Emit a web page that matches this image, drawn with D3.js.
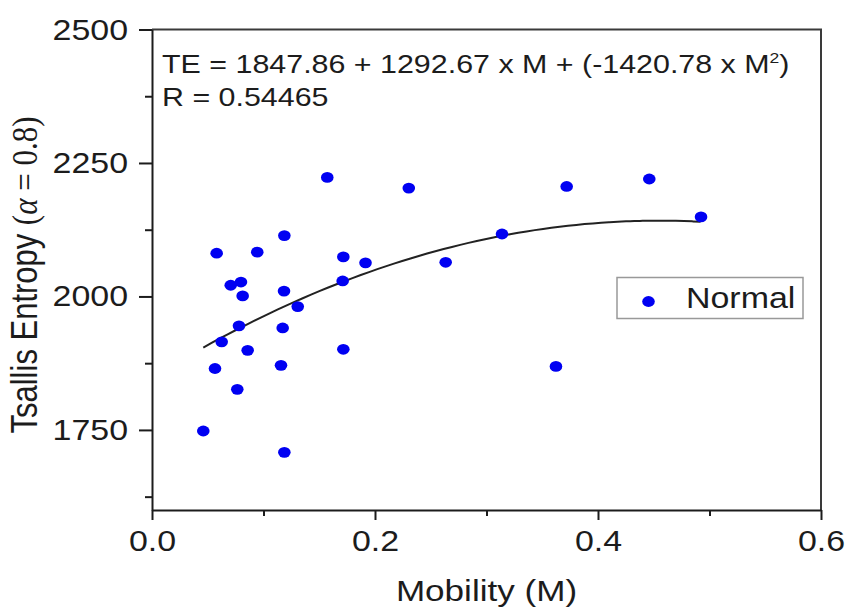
<!DOCTYPE html>
<html>
<head>
<meta charset="utf-8">
<script src="https://cdn.jsdelivr.net/npm/d3@7"></script>
<style>
  body { margin: 0; background: #fff; }
  text { font-family: "Liberation Sans", Arial, sans-serif; fill: #1c1c1c; }
</style>
</head>
<body>
<div id="chart"></div>
<script>
// ------ DATA ------
const mobility = [0.046, 0.0565, 0.058, 0.0625, 0.0706, 0.0765, 0.078, 0.0798, 0.0813, 0.0858,
                  0.0944, 0.1157, 0.1172, 0.1184, 0.1187, 0.1187, 0.1307, 0.1572, 0.171, 0.1716,
                  0.1716, 0.1915, 0.2303, 0.2634, 0.3139, 0.3623, 0.3719, 0.446, 0.4924]
const entropy  = [1748, 1865, 2081, 1915, 2021, 1826, 1945, 2027, 2001, 1899,
                  2083, 1871, 1941, 2010, 2114, 1708, 1981, 2223, 2029, 2074,
                  1901, 2063, 2203, 2064, 2117, 1869, 2206, 2220, 2149]

const xTicks = [0.0, 0.2, 0.4, 0.6]
const xMinor = [0.1, 0.3, 0.5]
const yTicks = [1750, 2000, 2250, 2500]
const yMinor = [1625, 1875, 2125, 2375]

// quadratic fit shown on the chart: TE = a + b*M + c*M^2
const fitCoef  = [1847.86, 1292.67, -1420.78]
const fitRange = [0.046, 0.492]
const fitR = "0.54465"
const seriesName = "Normal"

// ------ LAYOUT ------
const W = 849, H = 608
const SX = 1.17   // the picture is stretched sideways, so text is too
const blue = "#0000f2"
const serif = "'Liberation Serif', 'DejaVu Serif', serif"

const x = d3.scaleLinear().domain([0, 0.6]).range([152, 821])
const y = d3.scaleLinear().domain([1600, 2500]).range([510, 29.5])

const svg = d3.select("#chart").append("svg")
  .attr("width", W).attr("height", H)

svg.append("rect").attr("width", W).attr("height", H).attr("fill", "#fff")

// frame top + right
svg.append("path")
  .attr("d", `M${x(0)},${y(2500)}H${x(0.6)}V${y(1600)}`)
  .attr("fill", "none").attr("stroke", "#3a3a3a").attr("stroke-width", 2)

// ------ X AXIS ------
const gx = svg.append("g").attr("transform", `translate(0,${y(1600)})`)
  .call(d3.axisBottom(x).tickValues(xTicks).tickSize(10).tickSizeOuter(0)
    .tickFormat(d3.format(".1f")))
gx.append("g")
  .call(d3.axisBottom(x).tickValues(xMinor).tickSize(6).tickFormat(""))
  .select(".domain").remove()

gx.selectAll("text")
  .attr("y", 0).attr("dy", 0)
  .attr("transform", `translate(0,40.5) scale(${SX},1)`)
  .style("font-size", "29px")

// ------ Y AXIS ------
const gy = svg.append("g").attr("transform", `translate(${x(0)},0)`)
  .call(d3.axisLeft(y).tickValues(yTicks).tickSize(13).tickSizeOuter(0)
    .tickFormat(d3.format("d")))
gy.append("g")
  .call(d3.axisLeft(y).tickValues(yMinor).tickSize(7).tickFormat(""))
  .select(".domain").remove()

gy.selectAll("text")
  .attr("x", 0).attr("dy", 0)
  .attr("transform", `translate(-24,9.5) scale(${SX},1)`)
  .style("font-size", "29px")

svg.selectAll(".domain").attr("stroke", "#1c1c1c").attr("stroke-width", 2)
svg.selectAll(".tick line").attr("stroke", "#1c1c1c").attr("stroke-width", 2)

// axis titles
svg.append("text")
  .attr("text-anchor", "middle")
  .attr("transform", `translate(${x(0.3)},601) scale(${SX},1)`)
  .style("font-size", "30px")
  .text("Mobility (M)")

const ytitle = svg.append("text")
  .attr("text-anchor", "middle")
  .attr("transform", `translate(36.5,275) scale(${SX},1) rotate(-90)`)
  .style("font-size", "31px")
ytitle.append("tspan").text("Tsallis Entropy ")
ytitle.append("tspan").style("font-family", serif).text("(")
ytitle.append("tspan").style("font-family", serif).style("font-style", "italic").text("\u03b1")
ytitle.append("tspan").style("font-family", serif).text(" = 0.8)")

// ------ FIT CURVE ------
const fitX = d3.range(0, 61).map(i => fitRange[0] + (fitRange[1] - fitRange[0]) * i / 60)
const fitLine = d3.line()
  .x(d => x(d))
  .y(d => y(fitCoef[0] + fitCoef[1] * d + fitCoef[2] * d * d))
  .curve(d3.curveMonotoneX)

svg.append("path")
  .datum(fitX)
  .attr("d", fitLine)
  .attr("fill", "none")
  .attr("stroke", "#222")
  .attr("stroke-width", 2)

// ------ POINTS ------
svg.append("g").selectAll("ellipse")
  .data(mobility.map((m, i) => ({m: m, te: entropy[i]})))
  .join("ellipse")
  .attr("cx", d => x(d.m))
  .attr("cy", d => y(d.te))
  .attr("rx", 6.3).attr("ry", 5.4)
  .attr("fill", blue)

// ------ EQUATION ------
const eq = svg.append("text")
  .attr("transform", `translate(162,72.5) scale(${SX},1)`)
  .style("font-size", "26px")
eq.append("tspan")
  .text(`TE = ${fitCoef[0]} + ${fitCoef[1]} x M + (${fitCoef[2]} x M`)
eq.append("tspan").attr("dy", -10).style("font-size", "15px").text("2")
eq.append("tspan").attr("dy", 10).text(")")

svg.append("text")
  .attr("transform", `translate(162,106) scale(${SX},1)`)
  .style("font-size", "26px")
  .text(`R = ${fitR}`)

// ------ LEGEND ------
const lg = svg.append("g")
lg.append("rect")
  .attr("x", 617).attr("y", 277.5).attr("width", 186).attr("height", 41)
  .attr("fill", "#fff").attr("stroke", "#999").attr("stroke-width", 1.5)
lg.append("ellipse")
  .attr("cx", 648.5).attr("cy", 301.5).attr("rx", 6.3).attr("ry", 5.4)
  .attr("fill", blue)
lg.append("text")
  .attr("transform", `translate(686,307.5) scale(${SX},1)`)
  .style("font-size", "29px")
  .text(seriesName)
</script>
</body>
</html>
